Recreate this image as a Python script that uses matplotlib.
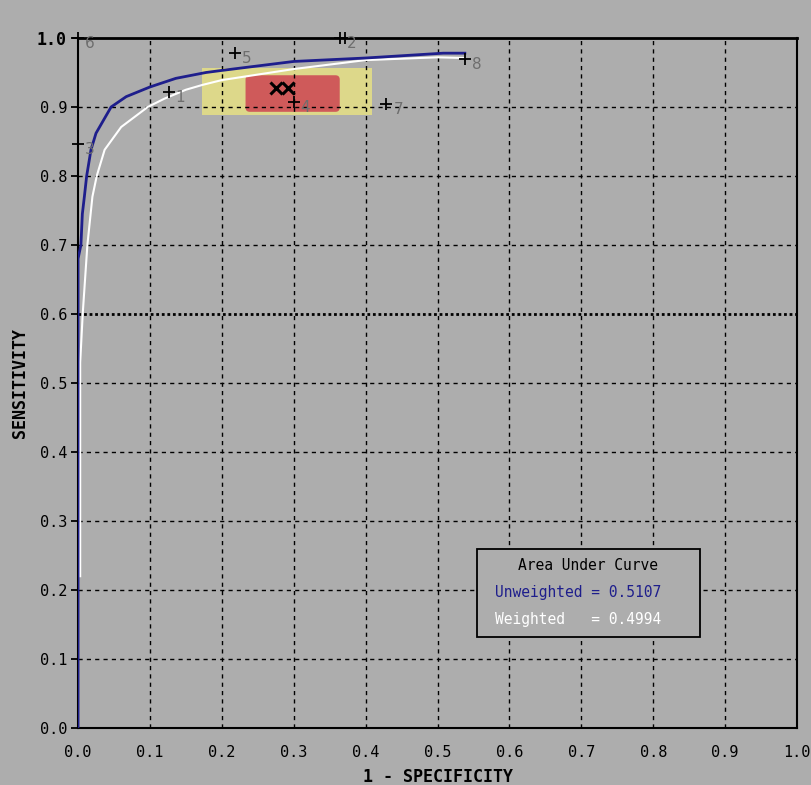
import matplotlib
matplotlib.use('Agg')
import matplotlib.pyplot as plt
from matplotlib.patches import Rectangle, FancyBboxPatch

# ---- data ----
blue_x = [0.0, 0.0, 0.004, 0.006, 0.0088, 0.012, 0.018, 0.025, 0.046, 0.067, 0.1, 0.136, 0.178, 0.2, 0.3, 0.4, 0.508, 0.538]
blue_y = [0.0, 0.68, 0.70, 0.745, 0.770, 0.80, 0.838, 0.862, 0.90, 0.915, 0.929, 0.9415, 0.950, 0.953, 0.966, 0.971, 0.978, 0.978]
white_x = [0.003, 0.003, 0.0065, 0.013, 0.020, 0.026, 0.037, 0.060, 0.097, 0.120, 0.150, 0.173, 0.2, 0.3, 0.4, 0.5, 0.538]
white_y = [0.22, 0.53, 0.60, 0.70, 0.770, 0.80, 0.838, 0.871, 0.90, 0.912, 0.925, 0.932, 0.939, 0.955, 0.968, 0.972, 0.971]

pt_labels = ['1', '2', '3', '4', '5', '6', '7', '8']
pt_x = [0.126, 0.364, 0.0, 0.30, 0.218, 0.0, 0.429, 0.538]
pt_y = [0.922, 1.0, 0.847, 0.907, 0.978, 1.0, 0.905, 0.970]
extra_x = [0.372]
extra_y = [1.0]

outer_box = [0.173, 0.889, 0.409, 0.956]   # x0, y0, x1, y1
inner_box = [0.233, 0.893, 0.364, 0.946]
cross_x = [0.276, 0.292]
cross_y = [0.927, 0.927]

ticks = [0.0, 0.1, 0.2, 0.3, 0.4, 0.5, 0.6, 0.7, 0.8, 0.9, 1.0]
tick_labels = ['0.0', '0.1', '0.2', '0.3', '0.4', '0.5', '0.6', '0.7', '0.8', '0.9', '1.0']
auc_unweighted = 0.5107
auc_weighted = 0.4994

BG = '#adadad'
MONO = 'DejaVu Sans Mono'

fig = plt.figure(figsize=(8.12, 7.85), dpi=100, facecolor=BG)
ax = fig.add_axes([0.0961, 0.0726, 0.8854, 0.879])
ax.set_facecolor(BG)
ax.set_xlim(0, 1)
ax.set_ylim(0, 1)

# grid
for t in ticks[1:-1]:
    ax.axvline(t, color='black', lw=1.0, ls=(0, (3, 3)), zorder=1)
    if abs(t - 0.6) < 1e-9:
        ax.axhline(t, color='black', lw=2.0, ls=(0, (1, 1)), zorder=1)
    else:
        ax.axhline(t, color='black', lw=1.0, ls=(0, (3, 3)), zorder=1)

# confidence boxes
ax.add_patch(Rectangle((outer_box[0], outer_box[1]), outer_box[2] - outer_box[0],
                       outer_box[3] - outer_box[1], facecolor='#ddd88a', edgecolor='none', zorder=0.5))
ax.add_patch(FancyBboxPatch((inner_box[0], inner_box[1]), inner_box[2] - inner_box[0],
                            inner_box[3] - inner_box[1], boxstyle='round,pad=0,rounding_size=0.006',
                            facecolor='#cf5a5a', edgecolor='none', zorder=0.6))

# curves
ax.plot(white_x, white_y, color='white', lw=1.5, zorder=3)
ax.plot(blue_x, blue_y, color='#1e1e8c', lw=2.0, zorder=4)

# points
ax.plot(pt_x, pt_y, ls='none', marker='+', ms=9, mew=1.3, color='black', zorder=5, clip_on=False)
ax.plot(extra_x, extra_y, ls='none', marker='+', ms=9, mew=1.3, color='black', zorder=5, clip_on=False)
for lab, x, y in zip(pt_labels, pt_x, pt_y):
    ax.annotate(lab, (x, y), xytext=(5, -4), textcoords='offset points', color='#6e6e6e',
                fontsize=11, ha='left', va='center', zorder=6)
ax.plot(cross_x, cross_y, ls='none', marker='x', ms=9, mew=2.2, color='black', zorder=6)

# AUC box
ax.add_patch(Rectangle((0.555, 0.132), 0.31, 0.127, facecolor=BG, edgecolor='black', lw=1.3, zorder=7))
ax.text(0.709, 0.235, 'Area Under Curve', family=MONO, fontsize=10.5, color='black',
        ha='center', va='center', zorder=8)
ax.text(0.58, 0.196, f'Unweighted = {auc_unweighted:.4f}', family=MONO, fontsize=10.5,
        color='#1e1e8c', ha='left', va='center', zorder=8)
ax.text(0.58, 0.157, f'Weighted   = {auc_weighted:.4f}', family=MONO, fontsize=10.5,
        color='white', ha='left', va='center', zorder=8)

# axes styling
for s in ax.spines.values():
    s.set_color('black')
    s.set_linewidth(1.5)
ax.spines['top'].set_linewidth(2)
ax.set_xticks(ticks)
ax.set_xticklabels(tick_labels, family=MONO, fontsize=11)
ax.set_yticks(ticks)
ax.set_yticklabels(tick_labels, family=MONO, fontsize=11)
ax.get_yticklabels()[-1].set_fontweight('bold')
ax.get_yticklabels()[-1].set_fontsize(12)
ax.tick_params(axis='x', length=0, pad=12)
ax.tick_params(axis='y', length=5, width=1.3, pad=3)

ax.set_xlabel('1 - SPECIFICITY', family=MONO, fontsize=12, fontweight='bold', labelpad=6)
ax.set_ylabel('SENSITIVITY', family=MONO, fontsize=12, fontweight='bold', labelpad=6)

fig.savefig('out.png', dpi=100, facecolor=BG)
